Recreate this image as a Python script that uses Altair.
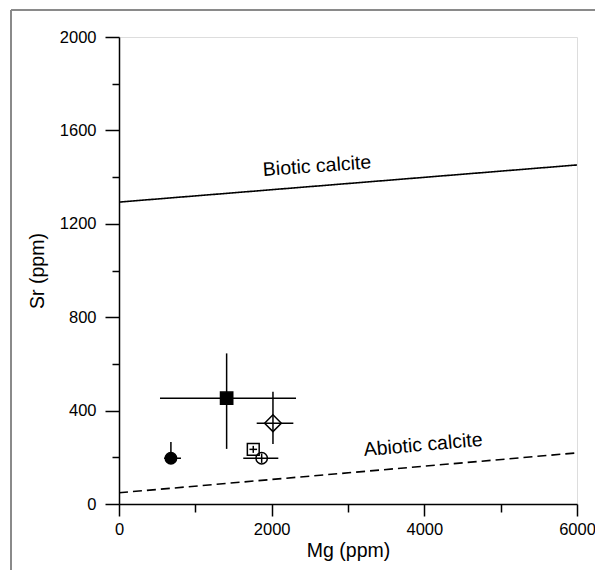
import altair as alt
import pandas as pd

# --- data -------------------------------------------------------------
mg = [680, 1410, 2017, 1759, 1869]
sr = [196, 453, 346, 234, 196]
mg_lo = [590, 537, 1804, 1709, 1628]
mg_hi = [812, 2319, 2284, 1809, 2087]
sr_lo = [175, 236, 257, 219, 176]
sr_hi = [265, 645, 481, 249, 216]
shape = ["circle", "square", "diamond", "square", "circle"]
filled = [True, True, False, False, False]
size = [130, 150, 280, 140, 130]

line_names = ["Biotic calcite", "Abiotic calcite"]
line_mg0 = [0, 0]
line_mg1 = [6000, 6000]
line_sr0 = [1293, 48]
line_sr1 = [1452, 219]
label_mg = [2594, 3983]
label_sr = [1447, 253]
label_angle = [356, 355]

FONT = "Liberation Sans"
W, H = 458, 467

pts = pd.DataFrame(dict(mg=mg, sr=sr, mg_lo=mg_lo, mg_hi=mg_hi, sr_lo=sr_lo,
                        sr_hi=sr_hi, shape=shape, filled=filled, size=size))
lines = pd.DataFrame(dict(name=line_names, x0=line_mg0, x1=line_mg1,
                          y0=line_sr0, y1=line_sr1, lx=label_mg, ly=label_sr,
                          ang=label_angle))

xscale = alt.Scale(domain=[0, 6000], nice=False, zero=False)
yscale = alt.Scale(domain=[0, 2000], nice=False, zero=False)

xaxis = alt.Axis(
    title="Mg (ppm)", values=[0, 1000, 2000, 3000, 4000, 5000, 6000],
    labelExpr="datum.value % 2000 === 0 ? datum.label : ''",
    tickSize={"condition": {"test": "datum.value % 2000 === 0", "value": 12}, "value": 8},
    format="d", grid=False, labelFontSize=16.5, titleFontSize=19.5,
    titleFontWeight="normal", labelPadding=5, titlePadding=4,
    labelFont=FONT, titleFont=FONT, domainColor="black", tickColor="black",
    labelColor="black", titleColor="black", domainWidth=1.5, tickWidth=1.5,
    labelFlush=False, labelOverlap=False,
)
yaxis = alt.Axis(
    title="Sr (ppm)", values=list(range(0, 2001, 200)),
    labelExpr="datum.value % 400 === 0 ? datum.label : ''",
    tickSize={"condition": {"test": "datum.value % 400 === 0", "value": 14}, "value": 7},
    format="d", grid=False, labelFontSize=16.5, titleFontSize=19.5,
    titleFontWeight="normal", labelPadding=9, titlePadding=12,
    labelFont=FONT, titleFont=FONT, domainColor="black", tickColor="black",
    labelColor="black", titleColor="black", domainWidth=1.5, tickWidth=1.5,
    labelFlush=False, labelOverlap=False,
)

base_lines = alt.Chart(lines)
ref_lines = base_lines.mark_rule(color="black", strokeWidth=1.6).encode(
    x=alt.X("x0:Q", scale=xscale, axis=xaxis),
    x2="x1:Q",
    y=alt.Y("y0:Q", scale=yscale, axis=yaxis),
    y2="y1:Q",
    strokeDash=alt.condition(alt.datum.name == "Abiotic calcite",
                             alt.value([9, 5]), alt.value([1, 0])),
)
labels = base_lines.mark_text(font=FONT, fontSize=19.5, color="black").encode(
    x=alt.X("lx:Q", scale=xscale),
    y=alt.Y("ly:Q", scale=yscale),
    text="name:N",
    angle=alt.Angle("ang:Q", scale=None),
)

base = alt.Chart(pts)
hbars = base.mark_rule(color="black", strokeWidth=1.5).encode(
    x=alt.X("mg_lo:Q", scale=xscale), x2="mg_hi:Q", y=alt.Y("sr:Q", scale=yscale))
vbars = base.mark_rule(color="black", strokeWidth=1.5).encode(
    x=alt.X("mg:Q", scale=xscale), y=alt.Y("sr_lo:Q", scale=yscale), y2="sr_hi:Q")
points = base.mark_point(stroke="black", strokeWidth=1.5, opacity=1).encode(
    x=alt.X("mg:Q", scale=xscale),
    y=alt.Y("sr:Q", scale=yscale),
    shape=alt.Shape("shape:N", scale=None, legend=None),
    size=alt.Size("size:Q", scale=None, legend=None),
    fill=alt.condition(alt.datum.filled, alt.value("black"), alt.value("transparent")),
)

frame_v = alt.Chart(pts).mark_rule(color="#8a8a8a", strokeWidth=2).encode(
    x=alt.value(-108), y=alt.value(-27), y2=alt.value(540))
frame_h = alt.Chart(pts).mark_rule(color="#8a8a8a", strokeWidth=2).encode(
    x=alt.value(-108), x2=alt.value(480), y=alt.value(-27))

chart = alt.layer(frame_v, frame_h, ref_lines, labels, hbars, vbars, points).properties(
    width=W, height=H,
    autosize=alt.AutoSizeParams(type="none"),
    padding={"left": 111, "top": 29, "right": 18, "bottom": 66},
).configure_view(stroke="black", strokeWidth=1.5).configure(background="white")

chart.save("out.html", embed_options={"renderer": "svg", "actions": False})
